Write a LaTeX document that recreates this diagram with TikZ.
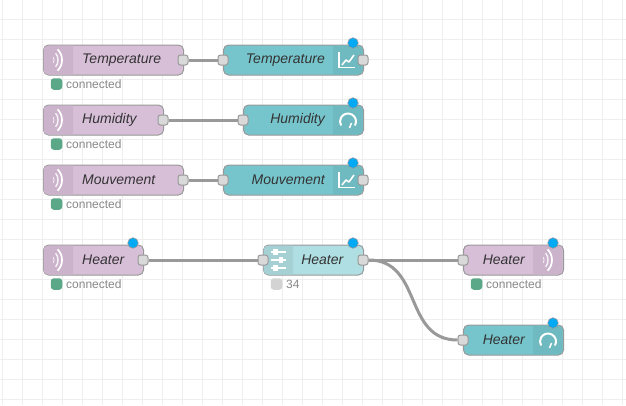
\documentclass[tikz,border=0pt]{standalone}
\usepackage{fontspec}
\setmainfont{Liberation Sans}
\definecolor{mqttfill}{HTML}{D8BFD8}
\definecolor{mqtttab}{HTML}{CBB3CB}
\definecolor{dashfill}{HTML}{77C5CC}
\definecolor{dashtab}{HTML}{6FB9C0}
\definecolor{rangefill}{HTML}{B0DFE3}
\definecolor{rangetab}{HTML}{A5D1D5}
\definecolor{edgegray}{HTML}{999999}
\definecolor{gridgray}{HTML}{EEEEEE}
\definecolor{portgray}{HTML}{D9D9D9}
\definecolor{okgreen}{HTML}{5BA888}
\definecolor{idlegray}{HTML}{D3D3D3}
\definecolor{labelink}{HTML}{333333}
\definecolor{statusink}{HTML}{888888}
\definecolor{changed}{HTML}{00A9F4}
\tikzset{
  bodybox/.style={draw=edgegray,line width=1pt,rounded corners=5pt,minimum height=30pt,inner sep=0pt,anchor=west},
  mqttbox/.style={bodybox,fill=mqttfill},
  dashbox/.style={bodybox,fill=dashfill},
  rangebox/.style={bodybox,fill=rangefill},
  portbox/.style={draw=edgegray,line width=1pt,fill=portgray,rounded corners=2.5pt,minimum size=10pt,inner sep=0pt},
  caption/.style={font=\fontsize{14}{16}\selectfont\itshape,text=labelink,inner sep=0pt},
  wire/.style={draw=edgegray,line width=3pt},
  icon/.style={draw=white,line width=1.6pt},
  badge/.style={circle,fill=changed,draw=edgegray,line width=.6pt,minimum size=10.5pt,inner sep=0pt},
  statusdot/.style={rounded corners=3pt,minimum size=11.5pt,inner sep=0pt},
  statustext/.style={font=\fontsize{12}{14}\selectfont,text=statusink,inner sep=0pt,anchor=west}
}
% darker icon panels along the left and right ends of a node
\newcommand{\tabL}[3]{\fill[#3,rounded corners=4.5pt] ({#1+30},{#2-14.5}) -- ({#1+.5},{#2-14.5}) -- ({#1+.5},{#2+14.5}) [sharp corners] -- ({#1+30},{#2+14.5}) -- cycle;}
\newcommand{\tabR}[3]{\fill[#3,rounded corners=4.5pt] ({#1-30},{#2-14.5}) -- ({#1-.5},{#2-14.5}) -- ({#1-.5},{#2+14.5}) [sharp corners] -- ({#1-30},{#2+14.5}) -- cycle;}
% radio waves; #1,#2 is the centre of the arcs
\newcommand{\waves}[2]{%
  \draw[icon,line width=1pt,white!70!mqtttab] (#1,#2) ++(-24:7pt) arc[start angle=-24,end angle=24,radius=7pt];
  \draw[icon,line width=1.4pt,white!85!mqtttab] (#1,#2) ++(-38:11pt) arc[start angle=-38,end angle=38,radius=11pt];
  \draw[icon,line width=1.7pt] (#1,#2) ++(-45:15pt) arc[start angle=-45,end angle=45,radius=15pt];}
% chart icon; #1,#2 is the left end of the panel and the node's middle
\newcommand{\charticon}[2]{%
  \draw[icon,line width=1.2pt] ({#1+6},{#2-8}) -- ({#1+6},{#2+7.5}) -- ({#1+22},{#2+7.5});
  \draw[icon,line width=1.6pt,line join=round] ({#1+9},{#2+5}) -- ({#1+13},{#2}) -- ({#1+16},{#2+2}) -- ({#1+21},{#2-5});}
% gauge icon; #1,#2 is the centre of the dial
\newcommand{\gaugeicon}[2]{%
  \draw[icon,line width=2pt] (#1,#2) ++(-30:8pt) arc[start angle=-30,end angle=210,radius=8pt];
  \draw[icon,line width=1.5pt] ({#1+1.5},{#2+6.5}) -- ({#1+3.5},{#2+1.5});}
% slider icon for the range node
\newcommand{\slidericon}[2]{%
  \foreach \dy/\kx in {-8/12.5,0/18,8/12.5}{
    \draw[icon,line width=1.5pt] ({#1+8},{#2+\dy}) -- ({#1+23},{#2+\dy});
    \fill[white] ({#1+\kx-2.2},{#2+\dy-3}) rectangle ({#1+\kx+2.2},{#2+\dy+3});
  }}
\begin{document}
\begin{tikzpicture}[x=1pt,y=-1pt]
\useasboundingbox (0,0) rectangle (626,405);
\fill[white] (0,0) rectangle (626,405);
% background grid
\foreach \gx in {0,...,31} \draw[gridgray,line width=1pt] ({2.5+20*\gx},0) -- ({2.5+20*\gx},405);
\foreach \gy in {0,...,19} \draw[gridgray,line width=1pt] (0,{19.5+20*\gy}) -- (626,{19.5+20*\gy});

% first row: temperature
\node[mqttbox,minimum width=140pt] (tempin) at (43,60) {};
\tabL{43}{60}{mqtttab} \waves{47}{60}
\node[caption,anchor=west] (tempinlabel) at (82,60) {Temperature};
\node[portbox] (tempinport) at (183,60) {};
\node[dashbox,minimum width=140pt] (tempchart) at (223,60) {};
\tabR{363}{60}{dashtab} \charticon{333}{60}
\node[caption,anchor=east] (tempchartlabel) at (325,60) {Temperature};
\node[portbox] (tempchartin) at (223,60) {};
\node[portbox] (tempchartout) at (363,60) {};
\node[badge] (tempbadge) at (353,43) {};
\node[statusdot,fill=okgreen] (tempdot) at (56.5,84) {};
\node[statustext] (tempstatus) at (66,84) {connected};
\draw[wire] (tempinport) -- (tempchartin);

% second row: humidity
\node[mqttbox,minimum width=120pt] (humin) at (43,120) {};
\tabL{43}{120}{mqtttab} \waves{47}{120}
\node[caption,anchor=west] (huminlabel) at (82,120) {Humidity};
\node[portbox] (huminport) at (163,120) {};
\node[dashbox,minimum width=120pt] (humgauge) at (243,120) {};
\tabR{363}{120}{dashtab} \gaugeicon{348}{121.5}
\node[caption,anchor=east] (humgaugelabel) at (325,120) {Humidity};
\node[portbox] (humgaugein) at (243,120) {};
\node[badge] (humbadge) at (353,103) {};
\node[statusdot,fill=okgreen] (humdot) at (56.5,144) {};
\node[statustext] (humstatus) at (66,144) {connected};
\draw[wire] (huminport) -- (humgaugein);

% third row: movement
\node[mqttbox,minimum width=140pt] (movein) at (43,180) {};
\tabL{43}{180}{mqtttab} \waves{47}{180}
\node[caption,anchor=west] (moveinlabel) at (82,180) {Mouvement};
\node[portbox] (moveinport) at (183,180) {};
\node[dashbox,minimum width=140pt] (movechart) at (223,180) {};
\tabR{363}{180}{dashtab} \charticon{333}{180}
\node[caption,anchor=east] (movechartlabel) at (325,180) {Mouvement};
\node[portbox] (movechartin) at (223,180) {};
\node[portbox] (movechartout) at (363,180) {};
\node[badge] (movebadge) at (353,163) {};
\node[statusdot,fill=okgreen] (movedot) at (56.5,204) {};
\node[statustext] (movestatus) at (66,204) {connected};
\draw[wire] (moveinport) -- (movechartin);

% heater flow
\node[mqttbox,minimum width=100pt] (heatin) at (43,260) {};
\tabL{43}{260}{mqtttab} \waves{47}{260}
\node[caption,anchor=west] (heatinlabel) at (82,260) {Heater};
\node[portbox] (heatinport) at (143,260) {};
\node[badge] (heatinbadge) at (133,243) {};
\node[statusdot,fill=okgreen] (heatindot) at (56.5,284) {};
\node[statustext] (heatinstatus) at (66,284) {connected};

\node[rangebox,minimum width=100pt] (heatrange) at (263,260) {};
\tabL{263}{260}{rangetab} \slidericon{263}{260}
\node[caption,anchor=east] (heatrangelabel) at (343.5,260) {Heater};
\node[portbox] (heatrangein) at (263,260) {};
\node[portbox] (heatrangeout) at (363,260) {};
\node[badge] (heatrangebadge) at (353,243) {};
\node[statusdot,fill=idlegray] (heatrangedot) at (276.5,284) {};
\node[statustext] (heatrangestatus) at (286,284) {34};

\node[mqttbox,minimum width=100pt] (heatout) at (463,260) {};
\tabR{563}{260}{mqtttab} \waves{537}{260}
\node[caption,anchor=east] (heatoutlabel) at (525,260) {Heater};
\node[portbox] (heatoutin) at (463,260) {};
\node[badge] (heatoutbadge) at (553,243) {};
\node[statusdot,fill=okgreen] (heatoutdot) at (476.5,284) {};
\node[statustext] (heatoutstatus) at (486,284) {connected};

\node[dashbox,minimum width=100pt] (heatgauge) at (463,340) {};
\tabR{563}{340}{dashtab} \gaugeicon{548}{341.5}
\node[caption,anchor=east] (heatgaugelabel) at (525,340) {Heater};
\node[portbox] (heatgaugein) at (463,340) {};
\node[badge] (heatgaugebadge) at (553,323) {};

\draw[wire] (heatinport) -- (heatrangein);
\draw[wire] (heatrangeout) -- (heatoutin);
\draw[wire] (heatrangeout.east) .. controls (423,260) and (403,340) .. (heatgaugein.west);
\end{tikzpicture}
\end{document}
